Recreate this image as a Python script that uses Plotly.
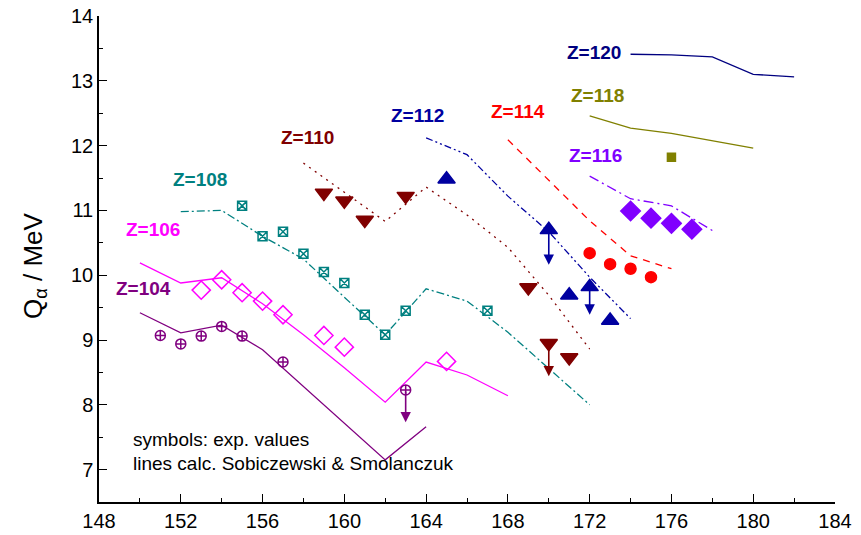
import plotly.graph_objects as go

# ---- experimental Q_alpha values (neutron number N, MeV) ----
z104_n = [151, 152, 153, 154, 155, 157, 163]
z104_q = [9.07, 8.94, 9.06, 9.21, 9.06, 8.66, 8.23]
z106_n = [153, 154, 155, 156, 157, 159, 160, 165]
z106_q = [9.77, 9.93, 9.73, 9.60, 9.39, 9.07, 8.89, 8.67]
z108_n = [155, 156, 157, 158, 159, 160, 161, 162, 163, 167]
z108_q = [11.07, 10.60, 10.67, 10.33, 10.05, 9.88, 9.39, 9.08, 9.45, 9.45]
z110_n = [159, 160, 161, 163, 169, 170, 171]
z110_q = [11.27, 11.15, 10.85, 11.22, 9.81, 8.95, 8.73]
z112_n = [165, 170, 171, 172, 173]
z112_q = [11.48, 10.70, 9.69, 9.82, 9.30]
z114_n = [172, 173, 174, 175]
z114_q = [10.34, 10.17, 10.10, 9.97]
z116_n = [174, 175, 176, 177]
z116_q = [10.99, 10.88, 10.80, 10.71]
z118_n = [176]
z118_q = [11.82]

# upper limits: (N, value, end of arrow)
limits_n = [163, 170, 170, 172]
limits_from = [8.23, 8.95, 10.70, 9.82]
limits_to = [7.73, 8.44, 10.16, 9.39]
limits_color = ["#800080", "#800000", "#0000A0", "#0000A0"]

# ---- calculated values (Sobiczewski & Smolanczuk) ----
c104_n = [150, 152, 154, 156, 162, 164]
c104_q = [9.42, 9.11, 9.23, 8.85, 7.15, 7.66]
c106_n = [150, 152, 154, 156, 158, 160, 162, 164, 166, 168]
c106_q = [10.19, 9.88, 9.96, 9.56, 9.08, 8.57, 8.04, 8.66, 8.46, 8.14]
c108_n = [152, 154, 156, 158, 160, 162, 164, 166, 168, 170, 172]
c108_q = [10.98, 11.00, 10.60, 10.25, 9.66, 9.08, 9.79, 9.60, 9.12, 8.56, 8.00]
c110_n = [158, 160, 162, 164, 166, 168, 170, 172]
c110_q = [11.73, 11.28, 10.83, 11.36, 10.93, 10.43, 9.69, 8.86]
c112_n = [164, 166, 168, 170, 172, 174]
c112_q = [12.12, 11.86, 11.22, 10.67, 9.97, 9.33]
c114_n = [168, 170, 172, 174, 176]
c114_q = [12.09, 11.47, 10.84, 10.30, 10.10]
c116_n = [172, 174, 176, 178]
c116_q = [11.53, 11.18, 11.07, 10.69]
c118_n = [172, 174, 176, 178, 180]
c118_q = [12.46, 12.27, 12.19, 12.07, 11.96]
c120_n = [174, 176, 178, 180, 182]
c120_q = [13.41, 13.40, 13.37, 13.10, 13.06]

# label positions of each element
z_labels = ["Z=104", "Z=106", "Z=108", "Z=110", "Z=112", "Z=114", "Z=116", "Z=118", "Z=120"]
z_label_x = [148.75, 149.2, 151.5, 156.8, 162.2, 167.1, 170.9, 171.0, 170.8]
z_label_y = [9.80, 10.71, 11.48, 12.13, 12.47, 12.52, 11.84, 12.78, 13.43]
z_colors = ["#800080", "#FF00FF", "#008080", "#800000", "#0000A0",
            "#FF0000", "#8000FF", "#808000", "#000080"]

fig = go.Figure()

calc = [
    (c104_n, c104_q, "#800080", "solid"),
    (c106_n, c106_q, "#FF00FF", "solid"),
    (c108_n, c108_q, "#008080", "8px,3px,2px,3px"),
    (c110_n, c110_q, "#800000", "2px,5px"),
    (c112_n, c112_q, "#0000A0", "7px,3px,2px,3px,2px,3px"),
    (c114_n, c114_q, "#FF0000", "7px,6px"),
    (c116_n, c116_q, "#8000FF", "10px,4px,2px,4px"),
    (c118_n, c118_q, "#808000", "solid"),
    (c120_n, c120_q, "#000080", "solid"),
]
for n, q, col, dash in calc:
    fig.add_trace(go.Scatter(x=n, y=q, mode="lines",
                             line=dict(color=col, width=1.3, dash=dash),
                             showlegend=False, hoverinfo="skip"))

exp = [
    (z104_n, z104_q, "#800080", "circle-cross-open", 10),
    (z106_n, z106_q, "#FF00FF", "diamond-open", 14),
    (z108_n, z108_q, "#008080", "square-x-open", 9),
    (z110_n, z110_q, "#800000", "triangle-down", 15),
    (z112_n, z112_q, "#0000A0", "triangle-up", 15),
    (z114_n, z114_q, "#FF0000", "circle", 11),
    (z116_n, z116_q, "#8000FF", "diamond", 15),
    (z118_n, z118_q, "#808000", "square", 8),
]
for n, q, col, sym, size in exp:
    fig.add_trace(go.Scatter(x=n, y=q, mode="markers",
                             marker=dict(symbol=sym, size=size, color=col,
                                         line=dict(color=col, width=1.5)),
                             showlegend=False))

# arrows marking upper limits
for n, a, b, col in zip(limits_n, limits_from, limits_to, limits_color):
    fig.add_annotation(x=n, y=b, ax=n, ay=a, xref="x", yref="y",
                       axref="x", ayref="y", text="", showarrow=True,
                       arrowhead=2, arrowsize=1.3, arrowwidth=1.6,
                       arrowcolor=col)

for t, x, y, col in zip(z_labels, z_label_x, z_label_y, z_colors):
    fig.add_annotation(x=x, y=y, text="<b>" + t + "</b>", showarrow=False,
                       xanchor="left", yanchor="middle",
                       font=dict(family="Arial, Liberation Sans", size=19, color=col))

fig.add_annotation(x=149.55, y=7.47, text="symbols: exp. values", showarrow=False,
                   xanchor="left", yanchor="middle",
                   font=dict(family="Arial, Liberation Sans", size=19, color="black"))
fig.add_annotation(x=149.55, y=7.09, text="lines calc. Sobiczewski &amp; Smolanczuk",
                   showarrow=False, xanchor="left", yanchor="middle",
                   font=dict(family="Arial, Liberation Sans", size=19, color="black"))

# y-axis title
fig.add_annotation(xref="paper", yref="paper", x=(34 - 99) / 736, y=(502 - 266) / 486,
                   text="Q<sub>α</sub> / MeV", textangle=-90, showarrow=False,
                   xanchor="center", yanchor="middle",
                   font=dict(family="Arial, Liberation Sans", size=26, color="black"))

fig.update_layout(
    width=861, height=535,
    margin=dict(l=99, r=26, t=16, b=33),
    paper_bgcolor="white", plot_bgcolor="white",
    font=dict(family="Arial, Liberation Sans", color="black"),
)
fig.update_xaxes(range=[148, 184], tickvals=list(range(148, 185, 4)),
                 ticks="inside", ticklen=8, tickwidth=1.2, tickcolor="black",
                 minor=dict(tickvals=list(range(150, 184, 4)), ticks="inside",
                            ticklen=4, tickcolor="black"),
                 showline=True, linecolor="black", linewidth=1.5,
                 showgrid=False, zeroline=False, automargin=False,
                 tickfont=dict(size=20, family="Liberation Sans Narrow, Arial Narrow, Arial"))
fig.update_yaxes(range=[6.5, 14], tickvals=list(range(7, 15)),
                 ticks="inside", ticklen=8, tickwidth=1.2, tickcolor="black",
                 minor=dict(tickvals=[x + 0.5 for x in range(6, 14)], ticks="inside",
                            ticklen=4, tickcolor="black"),
                 showline=True, linecolor="black", linewidth=1.5,
                 showgrid=False, zeroline=False, automargin=False,
                 tickfont=dict(size=20))

fig.write_html("out.html")
